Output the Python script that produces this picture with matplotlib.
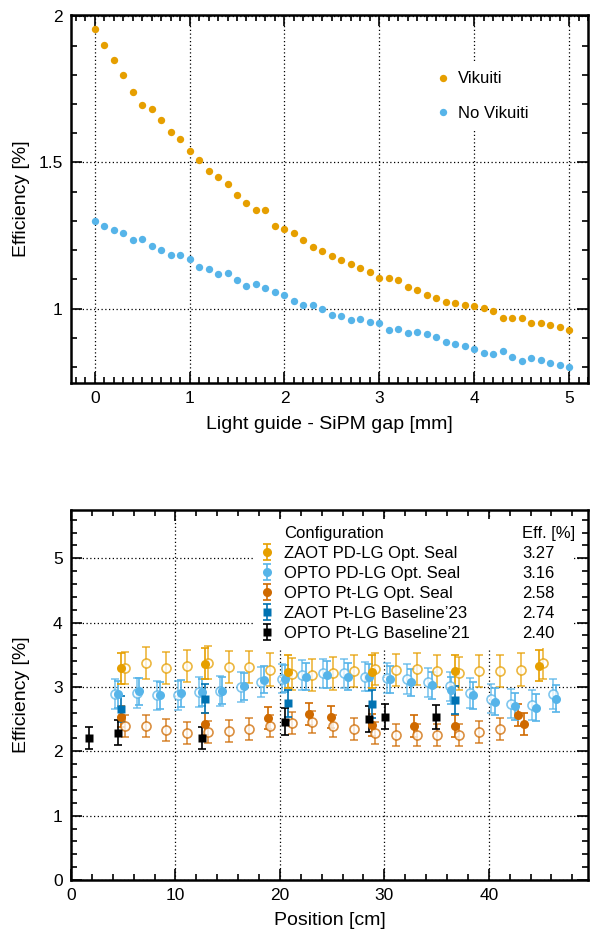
import matplotlib
matplotlib.use("Agg")
import matplotlib.pyplot as plt
from matplotlib.ticker import MultipleLocator, FuncFormatter

plt.rcParams['font.family'] = ['Liberation Sans', 'DejaVu Sans']

# ---------------- gap scan ----------------
gap_mm = [0.0, 0.1, 0.2, 0.3, 0.4, 0.5, 0.6, 0.7, 0.8, 0.9,
          1.0, 1.1, 1.2, 1.3, 1.4, 1.5, 1.6, 1.7, 1.8, 1.9,
          2.0, 2.1, 2.2, 2.3, 2.4, 2.5, 2.6, 2.7, 2.8, 2.9,
          3.0, 3.1, 3.2, 3.3, 3.4, 3.5, 3.6, 3.7, 3.8, 3.9,
          4.0, 4.1, 4.2, 4.3, 4.4, 4.5, 4.6, 4.7, 4.8, 4.9, 5.0]
eff_vikuiti = [1.958, 1.902, 1.852, 1.798, 1.742, 1.698, 1.684, 1.647, 1.603, 1.581,
               1.539, 1.508, 1.470, 1.450, 1.426, 1.387, 1.363, 1.339, 1.339, 1.284,
               1.271, 1.259, 1.235, 1.209, 1.197, 1.180, 1.167, 1.151, 1.140, 1.126,
               1.103, 1.105, 1.099, 1.072, 1.065, 1.048, 1.035, 1.023, 1.018, 1.013,
               1.008, 1.002, 0.992, 0.967, 0.968, 0.969, 0.951, 0.950, 0.942, 0.938, 0.927]
eff_no_vikuiti = [1.298, 1.281, 1.269, 1.259, 1.235, 1.239, 1.215, 1.200, 1.184, 1.184,
                  1.168, 1.141, 1.137, 1.117, 1.122, 1.097, 1.078, 1.083, 1.071, 1.057,
                  1.048, 1.026, 1.011, 1.011, 0.997, 0.977, 0.976, 0.960, 0.965, 0.954,
                  0.949, 0.926, 0.930, 0.917, 0.918, 0.914, 0.903, 0.886, 0.877, 0.871,
                  0.860, 0.849, 0.844, 0.853, 0.835, 0.822, 0.829, 0.825, 0.814, 0.805, 0.801]

# ---------------- position scan ----------------
# ZAOT PD-LG Opt. Seal
zpd_x = [4.78, 12.81, 20.81, 28.85, 36.75, 44.79]
zpd_y = [3.29, 3.36, 3.24, 3.24, 3.25, 3.33]
zpd_e = [0.24, 0.24, 0.25, 0.25, 0.24, 0.24]
zpd_open_x = [5.16, 7.14, 9.11, 11.09, 13.13, 15.14, 17.09, 19.09, 21.13, 23.10, 25.08,
              27.06, 29.14, 31.14, 33.12, 35.07, 37.13, 39.11, 41.12, 43.13, 45.17]
zpd_open_y = [3.30, 3.37, 3.30, 3.33, 3.38, 3.31, 3.31, 3.27, 3.20, 3.19, 3.21,
              3.25, 3.28, 3.26, 3.28, 3.25, 3.21, 3.25, 3.25, 3.27, 3.37]
zpd_open_e = [0.25] * len(zpd_open_x)

# OPTO PD-LG Opt. Seal
opd_x = [4.52, 6.53, 8.50, 10.55, 12.52, 14.50, 16.58, 18.51, 20.49, 22.47, 24.50,
         26.48, 28.53, 30.50, 32.51, 34.58, 36.41, 38.50, 40.55, 42.54, 44.52, 46.45]
opd_y = [2.89, 2.93, 2.87, 2.90, 2.92, 2.94, 3.01, 3.11, 3.13, 3.16, 3.19,
         3.16, 3.15, 3.12, 3.07, 3.03, 2.95, 2.87, 2.77, 2.70, 2.68, 2.82]
opd_e = [0.21] * len(opd_x)
opd_open_x = [4.24, 6.31, 8.20, 10.20, 12.27, 14.23, 16.23, 18.20, 20.18, 22.15, 24.13,
              26.16, 28.14, 30.25, 32.19, 34.20, 36.24, 38.16, 40.19, 42.16, 44.17, 46.16]
opd_open_y = [2.89, 2.91, 2.87, 2.87, 2.92, 2.94, 3.00, 3.08, 3.13, 3.19, 3.21,
              3.21, 3.16, 3.14, 3.12, 3.07, 3.01, 2.91, 2.82, 2.74, 2.72, 2.89]
opd_open_e = [0.23] * len(opd_open_x)

# OPTO Pt-LG Opt. Seal
opt_x = [4.78, 12.81, 18.83, 22.79, 24.86, 28.85, 32.83, 36.75, 42.80, 43.35]
opt_y = [2.54, 2.42, 2.52, 2.58, 2.53, 2.41, 2.40, 2.40, 2.57, 2.43]
opt_e = [0.17] * len(opt_x)
opt_open_x = [5.16, 7.14, 9.11, 11.09, 13.13, 15.14, 17.09, 19.09, 21.13, 23.10,
              25.08, 27.06, 29.14, 31.14, 33.12, 35.07, 37.13, 39.11, 41.12]
opt_open_y = [2.39, 2.40, 2.33, 2.29, 2.30, 2.31, 2.35, 2.40, 2.44, 2.45,
              2.39, 2.35, 2.29, 2.26, 2.25, 2.25, 2.26, 2.30, 2.34]
opt_open_e = [0.17] * len(opt_open_x)

# ZAOT Pt-LG Baseline'23
zbl_x = [4.78, 12.81, 20.81, 28.85, 36.75]
zbl_y = [2.66, 2.82, 2.75, 2.73, 2.80]
zbl_e = [0.20, 0.23, 0.21, 0.22, 0.22]

# OPTO Pt-LG Baseline'21
obl_x = [1.72, 4.49, 12.52, 20.49, 28.53, 30.03, 34.97]
obl_y = [2.20, 2.29, 2.20, 2.46, 2.50, 2.54, 2.53]
obl_e = [0.17, 0.19, 0.17, 0.21, 0.20, 0.20, 0.19]

config_labels = ["ZAOT PD-LG Opt. Seal", "OPTO PD-LG Opt. Seal", "OPTO Pt-LG Opt. Seal",
                 "ZAOT Pt-LG Baseline\u201923", "OPTO Pt-LG Baseline\u201921"]
config_eff = ["3.27", "3.16", "2.58", "2.74", "2.40"]

C_ORANGE = '#E69F00'
C_SKY = '#56B4E9'
C_RUST = '#CF6A00'
C_BLUE = '#0072B2'
C_BLACK = '#000000'


def style_axes(ax):
    for s in ax.spines.values():
        s.set_linewidth(1.8)
    ax.tick_params(which='both', direction='in', top=True, right=True,
                   width=1.2, labelsize=12.5, pad=6)
    ax.tick_params(which='major', length=8)
    ax.tick_params(which='minor', length=4)
    ax.grid(which='major', linestyle=(0, (1, 2)), color='black', linewidth=0.9)
    ax.set_axisbelow(True)


fmt_g = FuncFormatter(lambda v, p: '%g' % v)

fig = plt.figure(figsize=(5.93, 9.32), dpi=100)

# ---------- upper panel ----------
ax1 = fig.add_axes([71 / 593, 1 - 383 / 932, 517 / 593, 368 / 932])
ax1.plot(gap_mm, eff_vikuiti, 'o', color=C_ORANGE, ms=5.3, mec='none', label='Vikuiti')
ax1.plot(gap_mm, eff_no_vikuiti, 'o', color=C_SKY, ms=5.3, mec='none', label='No Vikuiti')
ax1.set_xlim(-0.25, 5.2)
ax1.set_ylim(0.745, 2.005)
ax1.xaxis.set_major_locator(MultipleLocator(1))
ax1.xaxis.set_minor_locator(MultipleLocator(0.1))
ax1.yaxis.set_major_locator(MultipleLocator(0.5))
ax1.yaxis.set_minor_locator(MultipleLocator(0.1))
ax1.yaxis.set_major_formatter(fmt_g)
style_axes(ax1)
ax1.set_xlabel('Light guide - SiPM gap [mm]', fontsize=14, labelpad=7)
ax1.set_ylabel('Efficiency [%]', fontsize=14, labelpad=6)
leg1 = ax1.legend(loc='upper left', bbox_to_anchor=(0.685, 0.874), borderaxespad=0,
                  fontsize=12, labelspacing=1.15, handlelength=1.0, handletextpad=0.35,
                  borderpad=0.6, frameon=True, fancybox=False, framealpha=1)
leg1.get_frame().set_edgecolor('none')
leg1.get_frame().set_facecolor('white')

# ---------- lower panel ----------
ax2 = fig.add_axes([71 / 593, 1 - 880 / 932, 517 / 593, 370 / 932])
eb_kw = dict(linestyle='none', capsize=3, elinewidth=1.2, capthick=1.2)
open_kw = dict(mfc='white', mew=1.2, ms=6.5, alpha=0.75)

ax2.errorbar(opt_open_x, opt_open_y, yerr=opt_open_e, fmt='o', color=C_RUST, mec=C_RUST, **open_kw, **eb_kw)
ax2.errorbar(opd_open_x, opd_open_y, yerr=opd_open_e, fmt='o', color=C_SKY, mec=C_SKY, **open_kw, **eb_kw)
ax2.errorbar(zpd_open_x, zpd_open_y, yerr=zpd_open_e, fmt='o', color=C_ORANGE, mec=C_ORANGE, **open_kw, **eb_kw)

h_opt = ax2.errorbar(opt_x, opt_y, yerr=opt_e, fmt='o', color=C_RUST, ms=6.5, mec='none', **eb_kw)
h_opd = ax2.errorbar(opd_x, opd_y, yerr=opd_e, fmt='o', color=C_SKY, ms=6.5, mec='none', **eb_kw)
h_zpd = ax2.errorbar(zpd_x, zpd_y, yerr=zpd_e, fmt='o', color=C_ORANGE, ms=6.5, mec='none', **eb_kw)
h_zbl = ax2.errorbar(zbl_x, zbl_y, yerr=zbl_e, fmt='s', color=C_BLUE, ms=6, mec='none', **eb_kw)
h_obl = ax2.errorbar(obl_x, obl_y, yerr=obl_e, fmt='s', color=C_BLACK, ms=6, mec='none', **eb_kw)

ax2.set_xlim(0, 49.5)
ax2.set_ylim(0, 5.75)
ax2.xaxis.set_major_locator(MultipleLocator(10))
ax2.xaxis.set_minor_locator(MultipleLocator(2))
ax2.yaxis.set_major_locator(MultipleLocator(1))
ax2.yaxis.set_minor_locator(MultipleLocator(0.2))
style_axes(ax2)
ax2.set_xlabel('Position [cm]', fontsize=14, labelpad=6)
ax2.set_ylabel('Efficiency [%]', fontsize=14, labelpad=16.5)

handles = [h_zpd, h_opd, h_opt, h_zbl, h_obl]
leg2 = ax2.legend(handles, config_labels, loc='upper left',
                  bbox_to_anchor=(0.356, 0.57, 0.614, 0.405), mode='expand', borderaxespad=0,
                  fontsize=12, title=' ', title_fontsize=12, labelspacing=0.30,
                  handlelength=0.6, handletextpad=0.75, borderpad=0.4,
                  frameon=True, fancybox=False, framealpha=1)
leg2.get_frame().set_edgecolor('none')
leg2.get_frame().set_facecolor('white')

# header row and efficiency column next to the legend entries
fig.canvas.draw()
inv = ax2.transAxes.inverted()
centres = []
for t in leg2.get_texts():
    bb = t.get_window_extent()
    x0, yc = inv.transform(((bb.x0, (bb.y0 + bb.y1) / 2)))
    centres.append((x0, yc))
row_step = centres[0][1] - centres[1][1]
label_x = centres[0][0]
eff_x = 0.873
ax2.text(label_x, centres[0][1] + row_step, 'Configuration', transform=ax2.transAxes,
         fontsize=12, va='center', ha='left', zorder=10)
ax2.text(eff_x, centres[0][1] + row_step, 'Eff. [%]', transform=ax2.transAxes,
         fontsize=12, va='center', ha='left', zorder=10)
for (x0, yc), val in zip(centres, config_eff):
    ax2.text(eff_x, yc, val, transform=ax2.transAxes, fontsize=12,
             va='center', ha='left', zorder=10)

fig.savefig('out.png', dpi=100)
